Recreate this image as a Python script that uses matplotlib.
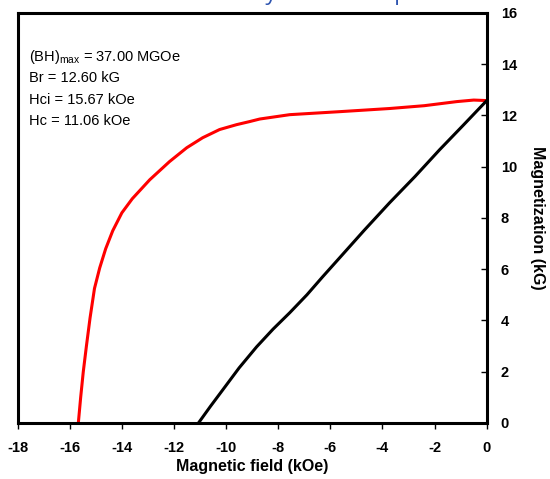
import matplotlib
matplotlib.use("Agg")
import matplotlib.pyplot as plt

# demagnetization curve (red) and B-H curve (black)
field_red = [-15.67, -15.58, -15.48, -15.36, -15.22, -15.05, -14.85, -14.62, -14.35, -14.00,
             -13.60, -12.93, -12.17, -11.51, -10.90, -10.25, -9.60, -9.10, -8.71, -7.56,
             -5.60, -3.73, -2.40, -1.15, -0.50, 0.0]
mag_red = [0.0, 1.00, 2.00, 3.00, 4.10, 5.25, 6.05, 6.80, 7.50, 8.20,
           8.75, 9.49, 10.20, 10.74, 11.13, 11.45, 11.64, 11.76, 11.86, 12.03,
           12.15, 12.27, 12.38, 12.54, 12.60, 12.58]

field_black = [-11.06, -10.60, -10.13, -9.50, -8.83, -8.20, -7.56, -6.90, -6.30, -5.64,
               -4.70, -3.73, -2.75, -1.81, -0.90, 0.0]
mag_black = [0.0, 0.65, 1.29, 2.15, 2.97, 3.66, 4.30, 5.00, 5.70, 6.45,
             7.52, 8.59, 9.62, 10.66, 11.62, 12.58]

xticks = list(range(-18, 1, 2))
yticks = list(range(0, 17, 2))

info = [r"(BH)$_{\rm max}$ = 37.00 MGOe",
        "Br = 12.60 kG",
        "Hci = 15.67 kOe",
        "Hc = 11.06 kOe"]

plt.rcParams['font.family'] = ['Liberation Sans', 'DejaVu Sans']
plt.rcParams['mathtext.fontset'] = 'custom'
plt.rcParams['mathtext.rm'] = 'Liberation Sans'

fig = plt.figure(figsize=(5.5, 4.79), dpi=100)
ax = fig.add_axes([0.032, 0.117, 0.853, 0.856])

ax.plot(field_red, mag_red, color='red', lw=2.2, solid_capstyle='butt')
ax.plot(field_black, mag_black, color='black', lw=2.2, solid_capstyle='butt')

ax.set_xlim(-18, 0)
ax.set_ylim(0, 16)
ax.set_xticks(xticks)
ax.set_yticks(yticks)
ax.set_xticklabels([str(t) for t in xticks], fontsize=10.5, fontweight='bold')
ax.set_yticklabels([str(t) for t in yticks], fontsize=10.5, fontweight='bold')

ax.yaxis.tick_right()
ax.yaxis.set_label_position('right')
ax.tick_params(axis='x', direction='out', length=4, width=1, pad=9)
ax.tick_params(axis='y', direction='in', length=4, width=1, pad=10)

for s in ax.spines.values():
    s.set_linewidth(2.2)

ax.set_xlabel("Magnetic field (kOe)", fontsize=11.5, fontweight='bold', labelpad=3)
ax.set_ylabel("Magnetization (kG)", fontsize=11.5, fontweight='bold', rotation=-90, labelpad=20)

for i, line in enumerate(info):
    ax.text(0.025, 0.882 - i * 0.0515, line, transform=ax.transAxes, fontsize=10.5,
            va='baseline', ha='left')

# cut-off slide title above the chart
fig.text(0.452, 1.0, "Hysteresis loop", fontsize=16, color='#2e55b0',
         family='Open Sans', ha='left', va='baseline')

fig.savefig("out.png", dpi=100)
